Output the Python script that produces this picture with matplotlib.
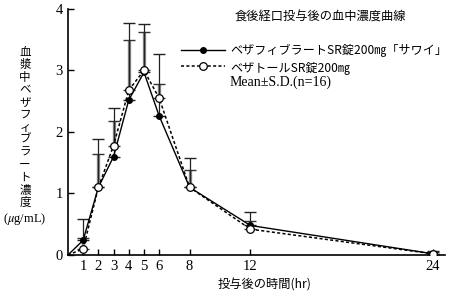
import matplotlib
matplotlib.use("Agg")
import matplotlib.pyplot as plt

# time (hr) and mean concentration (ug/mL)
hours = [0, 1, 2, 3, 4, 5, 6, 8, 12, 24]
test_mean = [0, 0.24, 1.10, 1.60, 2.52, 2.97, 2.26, 1.10, 0.48, 0.02]
ref_mean = [0, 0.10, 1.10, 1.78, 2.68, 3.00, 2.55, 1.10, 0.42, 0.02]
# upper S.D.
test_sd = [0, 0.34, 0.79, 0.79, 1.25, 0.79, 1.01, 0.48, 0.22, 0.04]
ref_sd = [0, 0.17, 0.54, 0.40, 0.82, 0.63, 0.23, 0.28, 0.13, 0.03]

xticks = [1, 2, 3, 4, 5, 6, 8, 12, 24]
yticks = [0, 1, 2, 3, 4]

JP = ["Noto Sans CJK JP", "DejaVu Sans"]
SERIF = ["Liberation Serif", "DejaVu Serif"]
plt.rcParams["mathtext.fontset"] = "stix"

fig = plt.figure(figsize=(4.5, 2.95), dpi=100)
ax = fig.add_axes([0.151, 0.1356, 0.838, 0.834])

# error bars (upper only)
zeros = [0] * len(hours)
ax.errorbar(hours[1:], ref_mean[1:], yerr=[zeros[1:], ref_sd[1:]], fmt="none",
            ecolor="#8a8a8a", elinewidth=2.4, capsize=0, zorder=1)
ax.errorbar(hours[1:], ref_mean[1:], yerr=[zeros[1:], ref_sd[1:]], fmt="none",
            ecolor="#333333", elinewidth=0, capsize=4, capthick=1.0, zorder=1)
ax.errorbar(hours[1:], test_mean[1:], yerr=[zeros[1:], test_sd[1:]], fmt="none",
            ecolor="#222222", elinewidth=0.9, capsize=4, capthick=1.0, zorder=1)

pts = list(range(1, len(hours)))
l1, = ax.plot(hours, test_mean, "-", color="black", lw=1.0, marker="o",
              ms=4, mfc="black", mec="black", markevery=pts, zorder=3)
l2, = ax.plot(hours, ref_mean, color="black", lw=1.1, ls=(0, (2, 1.5)),
              marker="o", ms=5.5, mfc="white", mec="black", mew=0.9,
              markevery=pts, zorder=4)

ax.set_xlim(0, 24.8)
ax.set_ylim(0, 4)
ax.set_xticks(xticks)
ax.set_yticks(yticks)
ax.spines["top"].set_visible(False)
ax.spines["right"].set_visible(False)
for s in ("left", "bottom"):
    ax.spines[s].set_linewidth(1.2)
ax.tick_params(direction="in", length=4, width=1.0, labelsize=10.5)
for lab in ax.get_xticklabels() + ax.get_yticklabels():
    lab.set_family(SERIF)

leg = ax.legend([l1, l2], ["ベザフィブラートSR錠200㎎「サワイ」", "ベザトールSR錠200㎎"],
                loc="upper left", bbox_to_anchor=(175 / 450, 1 - 38 / 295),
                bbox_transform=fig.transFigure, frameon=False, numpoints=1,
                handlelength=3.6, handletextpad=0.5, labelspacing=0.3,
                borderpad=0, prop={"family": JP, "size": 8.7})

fig.text(320 / 450, 1 - 17 / 295, "食後経口投与後の血中濃度曲線", family=JP,
         fontsize=8.8, ha="center", va="center")
fig.text(230 / 450, 1 - 82 / 295, "Mean±S.D.(n=16)", family=SERIF,
         fontsize=10, ha="left", va="center")

ylab = "\n".join("血漿中ベザフィブラート濃度")
fig.text(25 / 450, 1 - 127 / 295, ylab, family=JP, fontsize=8.3,
         ha="center", va="center", linespacing=0.95)
fig.text(25 / 450, 1 - 219 / 295, r"($\mu$g/mL)", family=SERIF, fontsize=9,
         ha="center", va="center")
fig.text(265 / 450, 1 - 285 / 295, "投与後の時間(hr)", family=JP, fontsize=8.8,
         ha="center", va="center")

fig.savefig("out.png", dpi=100)
